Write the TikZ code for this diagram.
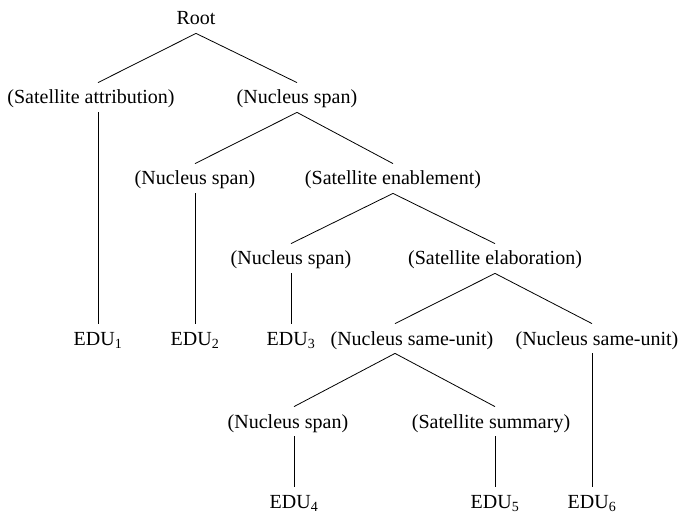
\documentclass[tikz,border=0pt]{standalone}
\usepackage{fontspec}
\setmainfont{Liberation Serif}
\usetikzlibrary{positioning}

\begin{document}
\begin{tikzpicture}[x=1pt, y=-1pt, line width=0.8pt,
    every node/.style={font=\fontsize{20}{24}\selectfont, anchor=base, inner xsep=0pt, inner ysep=4pt, text height=17pt, text depth=4pt}]
    \useasboundingbox (0,0) rectangle (680,513);

    \node (root) at (196,25) {Root};
    \node (satattr) at (91,104) {(Satellite attribution)};
    \node (span2) at (297,104) {(Nucleus span)};
    \node (span3) at (195,185) {(Nucleus span)};
    \node (enable) at (393,185) {(Satellite enablement)};
    \node (span4) at (291,265) {(Nucleus span)};
    \node (elab) at (495,265) {(Satellite elaboration)};
    \node (edu1) at (98,345) {EDU\textsubscript{1}};
    \node (edu2) at (195,345) {EDU\textsubscript{2}};
    \node (edu3) at (291,345) {EDU\textsubscript{3}};
    \node (same1) at (412,345) {(Nucleus same-unit)};
    \node (same2) at (597,345) {(Nucleus same-unit)};
    \node (span6) at (288,428) {(Nucleus span)};
    \node (summ) at (491,428) {(Satellite summary)};
    \node (edu4) at (294,508) {EDU\textsubscript{4}};
    \node (edu5) at (495,508) {EDU\textsubscript{5}};
    \node (edu6) at (592,508) {EDU\textsubscript{6}};

    \draw (root.south) -- ([xshift=7pt]satattr.north);
    \draw (root.south) -- (span2.north);
    \draw ([xshift=7pt]satattr.south) -- (edu1.north);
    \draw (span2.south) -- (span3.north);
    \draw (span2.south) -- (enable.north);
    \draw (span3.south) -- (edu2.north);
    \draw (enable.south) -- (span4.north);
    \draw (enable.south) -- (elab.north);
    \draw (span4.south) -- (edu3.north);
    \draw (elab.south) -- ([xshift=-17pt]same1.north);
    \draw (elab.south) -- ([xshift=-5pt]same2.north);
    \draw ([xshift=-17pt]same1.south) -- ([xshift=6pt]span6.north);
    \draw ([xshift=-17pt]same1.south) -- ([xshift=4pt]summ.north);
    \draw ([xshift=-5pt]same2.south) -- (edu6.north);
    \draw ([xshift=6pt]span6.south) -- (edu4.north);
    \draw ([xshift=4pt]summ.south) -- (edu5.north);
\end{tikzpicture}
\end{document}
